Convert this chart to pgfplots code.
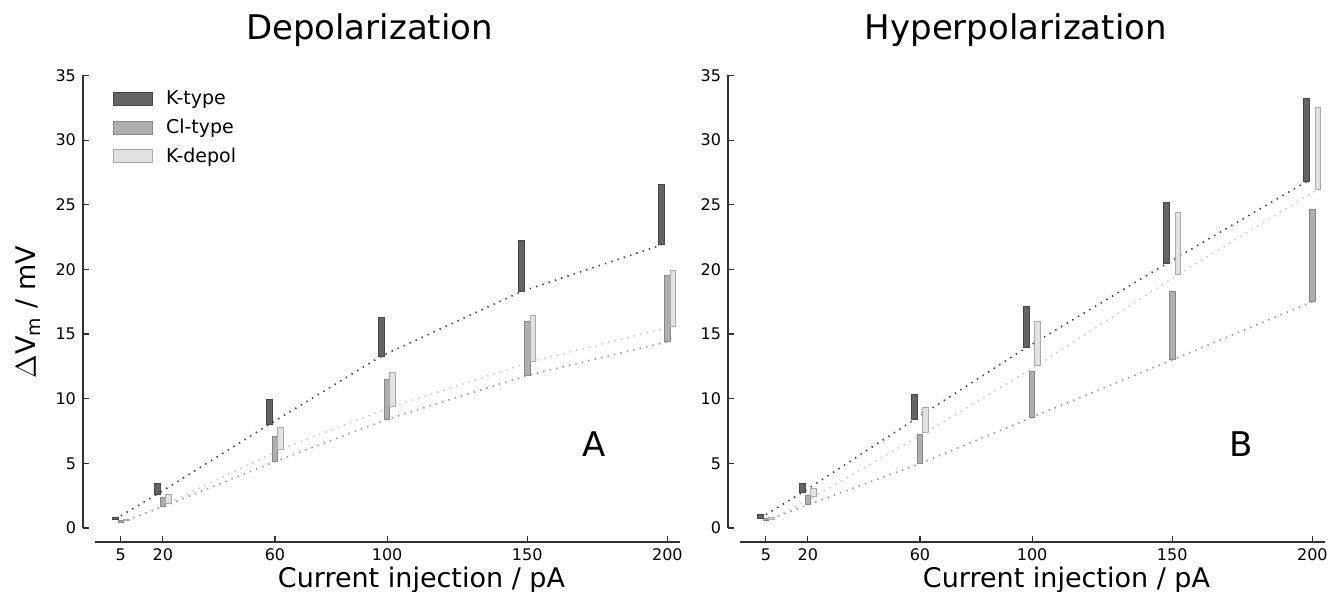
\documentclass[border=0pt]{standalone}
\usepackage{fontspec}
\setmainfont{DejaVu Sans}
\usepackage{pgfplots}
\pgfplotsset{compat=1.18}
\usepackage{pgfplotstable}

\definecolor{kfill}{RGB}{100,100,100}
\definecolor{kedge}{RGB}{70,70,70}
\definecolor{cfill}{RGB}{175,175,175}
\definecolor{cedge}{RGB}{135,135,135}
\definecolor{dfill}{RGB}{226,226,226}
\definecolor{dedge}{RGB}{170,170,170}
\definecolor{kline}{RGB}{60,60,60}
\definecolor{cline}{RGB}{150,150,150}
\definecolor{dline}{RGB}{200,200,200}
\definecolor{spine}{RGB}{50,50,50}

% Depolarization: bottom/top of each floating bar
\pgfplotstableread{
x   kb    kt    cb    ct    db    dt
5   0.68  0.82  0.45  0.60  0.55  0.68
20  2.62  3.42  1.65  2.39  1.93  2.60
60  8.02  9.93  5.14  7.10  6.09  7.79
100 13.3  16.25 8.41  11.5  9.39  12.0
150 18.3  22.2  11.8  16.0  12.9  16.4
200 21.9  26.6  14.4  19.5  15.6  19.9
}\depol

% Hyperpolarization
\pgfplotstableread{
x   kb    kt    cb    ct    db    dt
5   0.77  1.03  0.56  0.77  0.67  0.82
20  2.75  3.44  1.80  2.49  2.41  3.03
60  8.39  10.3  4.98  7.20  7.39  9.34
100 13.96 17.1  8.57  12.1  12.6  16.0
150 20.45 25.2  13.0  18.3  19.6  24.4
200 26.8  33.2  17.5  24.6  26.2  32.5
}\hyper

\pgfplotsset{
  panel/.style={
    scale only axis, width=298.5pt, height=233.25pt,
    xmin=-8.5, xmax=204.5, ymin=-1.08, ymax=35,
    anchor=south west, clip=false,
  },
  base/.style={panel,
    axis x line*=bottom, axis y line*=left,
    axis line style={draw=none},
    xtick={5,20,60,100,150,200}, ytick={0,5,...,35},
    tick align=inside, major tick length=3pt,
    tick style={spine, line width=0.6pt},
    tick label style={font=\fontsize{8}{9.6}\selectfont},
    /pgf/number format/assume math mode=true,
    xlabel={Current injection / pA},
    xlabel style={at={(axis description cs:0.567,-0.081)}, anchor=center, font=\fontsize{13.5}{16}\selectfont},
    title style={at={(axis description cs:0.48,1.072)}, anchor=center, font=\fontsize{17}{20}\selectfont},
  },
  over/.style={panel, hide axis, ybar stacked, bar width=2},
  kdot/.style={kline, line width=0.8pt, dash pattern=on 0.7pt off 2.6pt, mark=none},
  cdot/.style={cline, line width=0.8pt, dash pattern=on 0.7pt off 2.6pt, mark=none},
  ddot/.style={dline, line width=0.8pt, dash pattern=on 0.7pt off 2.6pt, mark=none},
}

\begin{document}
\begin{tikzpicture}
\path[use as bounding box] (0pt,0pt) rectangle (670.5pt,296pt);

% ---------------- Panel A ----------------
\begin{axis}[base, at={(41.5pt,25pt)},
  title={Depolarization},
  ylabel={$\Delta\mathrm{V}_\mathrm{m}$ / mV},
  ylabel style={at={(axis description cs:-0.092,0.493)}, anchor=center, font=\fontsize{13.5}{16}\selectfont},
  legend cell align=left,
  legend style={draw=none, fill=none, at={(axis description cs:0.04,0.985)}, anchor=north west,
    font=\fontsize{9.5}{11}\selectfont, row sep=1.6pt,
    /tikz/every odd column/.append style={column sep=4.5pt}},
  legend image code/.code={\draw[#1] (0pt,-3.25pt) rectangle (19.5pt,3.25pt);},
]
\addlegendimage{fill=kfill, draw=kedge}\addlegendentry{K-type}
\addlegendimage{fill=cfill, draw=cedge}\addlegendentry{Cl-type}
\addlegendimage{fill=dfill, draw=dedge}\addlegendentry{K-depol}
\draw[spine, line width=0.8pt] (axis cs:-8.5,0) -- (axis cs:-8.5,35);
\draw[spine, line width=1pt] (axis cs:-4.2,-1.08) -- (axis cs:204.5,-1.08);
\addplot[kdot, forget plot] table[x expr=\thisrow{x}-2, y=kb] \depol;
\addplot[cdot, forget plot] table[x=x, y=cb] \depol;
\addplot[ddot, forget plot] table[x expr=\thisrow{x}+2, y=db] \depol;
\node[font=\fontsize{17}{20}\selectfont] at (axis cs:174,6.5) {A};
\end{axis}
\begin{axis}[over, at={(41.5pt,25pt)}, bar shift=-2]
\addplot[draw=none, fill=none] table[x=x, y=kb] \depol;
\addplot[fill=kfill, draw=kedge, line width=0.5pt] table[x=x, y expr=\thisrow{kt}-\thisrow{kb}] \depol;
\end{axis}
\begin{axis}[over, at={(41.5pt,25pt)}, bar shift=0]
\addplot[draw=none, fill=none] table[x=x, y=cb] \depol;
\addplot[fill=cfill, draw=cedge, line width=0.5pt] table[x=x, y expr=\thisrow{ct}-\thisrow{cb}] \depol;
\end{axis}
\begin{axis}[over, at={(41.5pt,25pt)}, bar shift=2]
\addplot[draw=none, fill=none] table[x=x, y=db] \depol;
\addplot[fill=dfill, draw=dedge, line width=0.5pt] table[x=x, y expr=\thisrow{dt}-\thisrow{db}] \depol;
\end{axis}

% ---------------- Panel B ----------------
\begin{axis}[base, at={(364pt,25pt)},
  title={Hyperpolarization},
  title style={at={(axis description cs:0.482,1.072)}},
]
\draw[spine, line width=0.8pt] (axis cs:-8.5,0) -- (axis cs:-8.5,35);
\draw[spine, line width=1pt] (axis cs:-4.2,-1.08) -- (axis cs:204.5,-1.08);
\addplot[kdot] table[x expr=\thisrow{x}-2, y=kb] \hyper;
\addplot[cdot] table[x=x, y=cb] \hyper;
\addplot[ddot] table[x expr=\thisrow{x}+2, y=db] \hyper;
\node[font=\fontsize{17}{20}\selectfont] at (axis cs:174.6,6.5) {B};
\end{axis}
\begin{axis}[over, at={(364pt,25pt)}, bar shift=-2]
\addplot[draw=none, fill=none] table[x=x, y=kb] \hyper;
\addplot[fill=kfill, draw=kedge, line width=0.5pt] table[x=x, y expr=\thisrow{kt}-\thisrow{kb}] \hyper;
\end{axis}
\begin{axis}[over, at={(364pt,25pt)}, bar shift=0]
\addplot[draw=none, fill=none] table[x=x, y=cb] \hyper;
\addplot[fill=cfill, draw=cedge, line width=0.5pt] table[x=x, y expr=\thisrow{ct}-\thisrow{cb}] \hyper;
\end{axis}
\begin{axis}[over, at={(364pt,25pt)}, bar shift=2]
\addplot[draw=none, fill=none] table[x=x, y=db] \hyper;
\addplot[fill=dfill, draw=dedge, line width=0.5pt] table[x=x, y expr=\thisrow{dt}-\thisrow{db}] \hyper;
\end{axis}
\end{tikzpicture}
\end{document}
